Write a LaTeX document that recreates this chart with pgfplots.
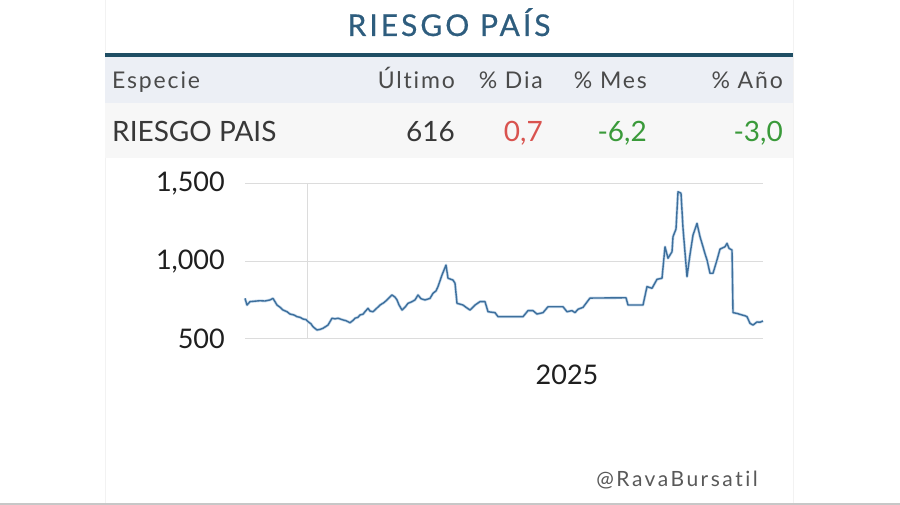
\documentclass[border=0pt]{standalone}
\usepackage{fontspec}
\setmainfont{Lato}[Ligatures=NoCommon]
\usepackage{pgfplots}
\pgfplotsset{compat=1.18}
\newfontfamily\titlefont[LetterSpace=10,FakeBold=0.6,Ligatures=NoCommon]{Lato}
\newfontfamily\hdrfont[LetterSpace=8,Ligatures=NoCommon]{Lato}
\newfontfamily\wmfont[LetterSpace=12,Ligatures=NoCommon]{Lato}
\definecolor{titlec}{HTML}{2E5D7E}
\definecolor{rulec}{HTML}{1F4E64}
\definecolor{hdrbg}{HTML}{ECEFF5}
\definecolor{rowbg}{HTML}{F7F7F7}
\definecolor{hdrtxt}{HTML}{4A4A4A}
\definecolor{rowtxt}{HTML}{383838}
\definecolor{redc}{HTML}{D9534F}
\definecolor{greenc}{HTML}{3A9A3A}
\definecolor{gridc}{HTML}{DCDCDC}
\definecolor{linec}{HTML}{3D6F9C}
\definecolor{haloc}{HTML}{C5D9EC}
\pgfplotstableread{
x y
245 762
247 719
250 741
255 744
260 747
265 745
270 752
273 762
277 719
280 705
283 687
287 676
290 661
294 655
297 644
300 640
303 629
306 625
308 612
311 598
313 579
317 558
320 562
323 569
328 590
332 634
335 630
338 634
343 623
346 618
350 605
353 620
355 634
358 640
360 655
363 660
365 676
368 698
370 680
373 676
377 700
380 719
384 735
387 752
392 784
395 770
397 752
399 720
402 687
405 705
408 730
412 741
415 752
418 784
421 760
425 752
430 762
433 795
436 810
438 838
442 913
446 977
448 892
451 885
453 880
455 860
457 730
460 725
463 719
467 700
470 687
475 719
480 741
485 741
488 676
495 670
498 644
523 644
528 683
533 683
537 661
543 670
548 708
563 708
567 676
572 683
575 670
578 692
583 704
590 764
626 766
628 719
643 719
647 838
652 827
657 885
662 892
665 1095
668 1021
672 1063
673 1160
676 1210
678 1450
681 1440
683 1215
687 902
690 1045
693 1170
697 1246
700 1160
703 1095
705 1050
707 1010
710 924
713 924
717 1010
720 1080
725 1095
727 1117
729 1085
732 1074
733 670
737 665
742 655
745 650
747 644
750 601
753 590
757 610
760 608
763 616
}\riesgo
\begin{document}
\begin{tikzpicture}[x=1pt,y=1pt]
\path[use as bounding box, fill=white] (0,0) rectangle (900,505);
% card
\draw[color=black!5, line width=1pt] (105,0) -- (105,505);
\draw[color=black!5, line width=1pt] (793,0) -- (793,505);
\draw[color=black!22, line width=1.5pt] (0,1) -- (900,1);
% title
\node[anchor=base, inner sep=0pt, text=titlec, font=\titlefont\fontsize{30}{30}\selectfont] at (449,469) {RIESGO PAÍS};
% rule and bands
\fill[hdrbg] (105,402) rectangle (793,448);
\fill[rowbg] (105,347) rectangle (793,402);
\fill[rulec] (105,448) rectangle (793,452);
% header
\begin{scope}[every node/.style={inner sep=0pt, text=hdrtxt, font=\hdrfont\fontsize{23}{23}\selectfont}]
\node[anchor=base west] at (112,416) {Especie};
\node[anchor=base east] at (455,416) {Último};
\node[anchor=base east] at (543,416) {\% Dia};
\node[anchor=base east] at (647,416) {\% Mes};
\node[anchor=base east] at (783,416) {\% Año};
\end{scope}
% row
\begin{scope}[every node/.style={inner sep=0pt, font=\fontsize{28}{28}\selectfont}]
\node[anchor=base west, text=rowtxt] at (112,363) {RIESGO PAIS};
\node[anchor=base east, text=rowtxt] at (455,363) {616};
\node[anchor=base east, text=redc] at (543,363) {0,7};
\node[anchor=base east, text=greenc] at (647,363) {-6,2};
\node[anchor=base east, text=greenc] at (783,363) {-3,0};
\end{scope}
% watermark
\node[anchor=base east, inner sep=0pt, text=black!65, font=\wmfont\fontsize{21}{21}\selectfont] at (758,18) {@RavaBursatil};
\begin{axis}[
  at={(245pt,166pt)}, anchor=south west,
  scale only axis, width=518pt, height=155pt,
  xmin=245, xmax=763, ymin=500, ymax=1500,
  ytick={500,1000,1500},
  xtick={307}, xticklabels={},
  extra x ticks={567}, extra x tick labels={2025},
  extra x tick style={grid=none},
  xmajorgrids, ymajorgrids,
  grid style={color=gridc, line width=1pt},
  axis line style={draw=none},
  major tick length=0pt,
  /pgf/number format/assume math mode=true,
  /pgf/number format/1000 sep={,},
  tick label style={font=\fontsize{27}{27}\selectfont, text=black!88, inner sep=0pt},
  yticklabel style={anchor=east, xshift=-20pt},
  xticklabel style={anchor=center, yshift=-36pt},
  clip=false,
]
\addplot[color=haloc, line width=2.8pt, line join=round] table[x=x,y=y] {\riesgo};
\addplot[color=linec, line width=1.4pt, line join=round] table[x=x,y=y] {\riesgo};
\end{axis}
\end{tikzpicture}
\end{document}
